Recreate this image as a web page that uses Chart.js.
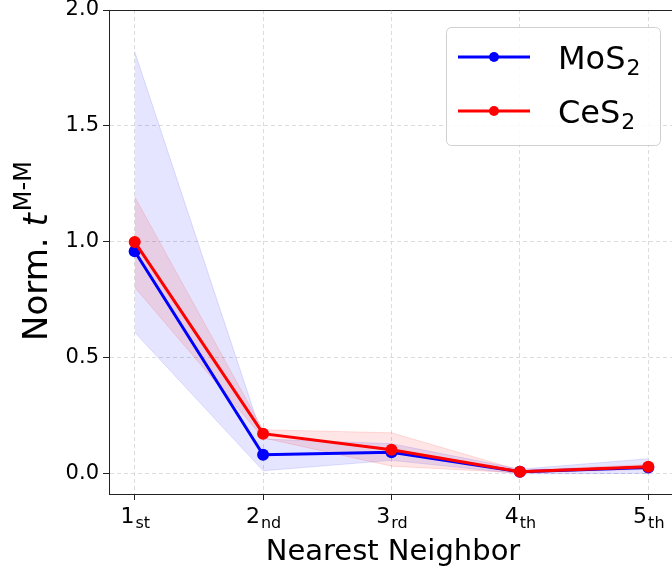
<!DOCTYPE html>
<html>
<head>
<meta charset="utf-8">
<script src="https://cdn.jsdelivr.net/npm/chart.js@4"></script>
<style>
  html, body { margin: 0; padding: 0; background: #fff; overflow: hidden; }
  #wrap { width: 680px; height: 574px; }
</style>
</head>
<body>
<div id="wrap"><canvas id="chart" width="680" height="574"></canvas></div>
<script>
// ordinal labels: main text + subscript
const neighborMain = ['1', '2', '3', '4', '5'];
const neighborSub = ['st', 'nd', 'rd', 'th', 'th'];
const yTicks = [0, 0.5, 1.0, 1.5, 2.0];

const mos2 = [0.96, 0.082, 0.093, 0.009, 0.027];
const mos2Upper = [1.82, 0.15, 0.13, 0.02, 0.065];
const mos2Lower = [0.61, 0.013, 0.058, 0.0, 0.002];

const ces2 = [1.0, 0.173, 0.104, 0.009, 0.03];
const ces2Upper = [1.195, 0.19, 0.177, 0.015, 0.04];
const ces2Lower = [0.805, 0.155, 0.033, 0.004, 0.02];

const FONT = '"DejaVu Sans", sans-serif';
const toXY = (arr) => arr.map((y, x) => ({ x, y }));

function lineSet(label, values, color) {
  return {
    label,
    data: toXY(values),
    borderColor: color,
    backgroundColor: color,
    borderWidth: 3,
    pointRadius: 6,
    pointBorderWidth: 0,
    pointBackgroundColor: color,
    tension: 0,
    fill: false,
  };
}

function bandSet(values, edge, fillColor, fillTarget) {
  return {
    data: toXY(values),
    borderColor: edge,
    borderWidth: 1,
    pointRadius: 0,
    tension: 0,
    backgroundColor: fillColor,
    fill: fillTarget,
  };
}

const customText = {
  id: 'customText',
  afterDraw(chart) {
    const { ctx, chartArea, scales } = chart;
    ctx.save();

    // top spine
    ctx.strokeStyle = '#222';
    ctx.lineWidth = 1;
    ctx.beginPath();
    ctx.moveTo(chartArea.left, chartArea.top + 0.5);
    ctx.lineTo(chartArea.right, chartArea.top + 0.5);
    ctx.stroke();

    // x tick labels with subscripts
    ctx.fillStyle = '#000';
    ctx.textBaseline = 'alphabetic';
    neighborMain.forEach((m, i) => {
      const px = scales.x.getPixelForValue(i);
      ctx.font = `22px ${FONT}`;
      const wm = ctx.measureText(m).width;
      ctx.font = `16px ${FONT}`;
      const ws = ctx.measureText(neighborSub[i]).width;
      const x0 = px - (wm + ws) / 2;
      ctx.font = `22px ${FONT}`;
      ctx.textAlign = 'left';
      ctx.fillText(m, x0, 523);
      ctx.font = `16px ${FONT}`;
      ctx.fillText(neighborSub[i], x0 + wm + 1, 528);
    });

    // x title
    ctx.font = `29px ${FONT}`;
    ctx.textAlign = 'center';
    ctx.fillText('Nearest Neighbor', 393, 560);

    // y title, rotated: "Norm. t^{M-M}"
    ctx.save();
    ctx.translate(47, 251);
    ctx.rotate(-Math.PI / 2);
    const p1 = 'Norm. ';
    const p2 = 't';
    const p3 = 'M-M';
    ctx.font = `34px ${FONT}`;
    const w1 = ctx.measureText(p1).width;
    ctx.font = `italic 34px ${FONT}`;
    const w2 = ctx.measureText(p2).width;
    ctx.font = `24px ${FONT}`;
    const w3 = ctx.measureText(p3).width;
    let x = -(w1 + w2 + w3 + 2) / 2;
    ctx.textAlign = 'left';
    ctx.font = `34px ${FONT}`;
    ctx.fillText(p1, x, 0);
    x += w1;
    ctx.font = `italic 34px ${FONT}`;
    ctx.fillText(p2, x, 0);
    x += w2 + 2;
    ctx.font = `24px ${FONT}`;
    ctx.fillText(p3, x, -16);
    ctx.restore();

    // legend
    const bx = 446, by = 27, bw = 214, bh = 118;
    ctx.fillStyle = 'rgba(255,255,255,0.85)';
    ctx.strokeStyle = '#d0d0d0';
    ctx.lineWidth = 1;
    ctx.beginPath();
    ctx.roundRect(bx + 0.5, by + 0.5, bw, bh, 5);
    ctx.fill();
    ctx.stroke();

    const entries = [
      { main: 'MoS', color: '#0000ff', y: 57 },
      { main: 'CeS', color: '#ff0000', y: 111 },
    ];
    entries.forEach((e) => {
      ctx.strokeStyle = e.color;
      ctx.lineWidth = 3;
      ctx.beginPath();
      ctx.moveTo(458, e.y);
      ctx.lineTo(530, e.y);
      ctx.stroke();
      ctx.fillStyle = e.color;
      ctx.beginPath();
      ctx.arc(494, e.y, 5, 0, Math.PI * 2);
      ctx.fill();

      ctx.fillStyle = '#000';
      ctx.textAlign = 'left';
      ctx.font = `32px ${FONT}`;
      ctx.fillText(e.main, 558, e.y + 12);
      const wm = ctx.measureText(e.main).width;
      ctx.font = `22px ${FONT}`;
      ctx.fillText('2', 558 + wm + 1, e.y + 18);
    });

    ctx.restore();
  },
};

new Chart(document.getElementById('chart'), {
  type: 'line',
  data: {
    datasets: [
      lineSet('CeS2', ces2, '#ff0000'),
      lineSet('MoS2', mos2, '#0000ff'),
      bandSet(ces2Upper, 'rgba(255,0,0,0.12)', 'rgba(255,0,0,0.1)', '+1'),
      bandSet(ces2Lower, 'rgba(255,0,0,0.12)', 'rgba(255,0,0,0.1)', false),
      bandSet(mos2Upper, 'rgba(0,0,255,0.12)', 'rgba(0,0,255,0.1)', '+1'),
      bandSet(mos2Lower, 'rgba(0,0,255,0.12)', 'rgba(0,0,255,0.1)', false),
    ],
  },
  options: {
    responsive: false,
    animation: false,
    events: [],
    layout: { padding: { top: 10, right: 3, left: 0, bottom: 0 } },
    plugins: {
      legend: { display: false },
      tooltip: { enabled: false },
    },
    scales: {
      x: {
        type: 'linear',
        min: -0.2,
        max: 4.2,
        afterBuildTicks: (scale) => {
          scale.ticks = neighborMain.map((_, i) => ({ value: i }));
        },
        afterFit: (scale) => {
          scale.height = 80;
          scale.paddingLeft = 0;
          scale.paddingRight = 0;
        },
        ticks: { display: false },
        grid: {
          color: '#dcdcdc',
          tickColor: '#222',
          tickLength: 6,
          tickBorderDash: [],
        },
        border: { color: '#222', width: 1, dash: [4, 3] },
      },
      y: {
        min: -0.087,
        max: 2.0,
        afterBuildTicks: (scale) => {
          scale.ticks = yTicks.map((v) => ({ value: v }));
        },
        afterFit: (scale) => {
          scale.width = 109;
          scale.paddingTop = 0;
          scale.paddingBottom = 0;
        },
        ticks: {
          color: '#000',
          font: { family: FONT, size: 21 },
          padding: 4,
          callback: (v) => Number(v).toFixed(1),
        },
        grid: {
          color: '#dcdcdc',
          tickColor: '#222',
          tickLength: 6,
          tickBorderDash: [],
        },
        border: { color: '#222', width: 1, dash: [4, 3] },
      },
    },
  },
  plugins: [customText],
});
</script>
</body>
</html>
